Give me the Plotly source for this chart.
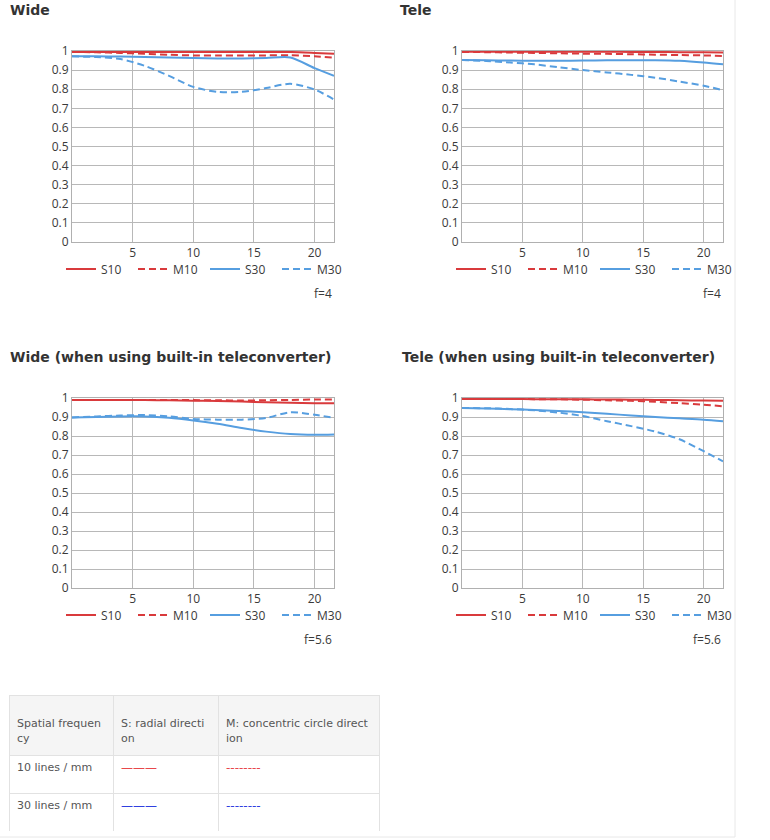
import plotly.graph_objects as go

# ---------------- data ----------------
image_height = [0, 2, 4, 6, 8, 10, 12, 14, 16, 18, 20, 21.6]

wide_s10 = [0.995, 0.995, 0.995, 0.995, 0.995, 0.995, 0.995, 0.995, 0.995, 0.995, 0.990, 0.985]
wide_m10 = [0.995, 0.993, 0.990, 0.985, 0.980, 0.977, 0.976, 0.976, 0.977, 0.978, 0.972, 0.965]
wide_s30 = [0.972, 0.972, 0.971, 0.969, 0.966, 0.963, 0.961, 0.961, 0.963, 0.966, 0.910, 0.870]
wide_m30 = [0.972, 0.968, 0.958, 0.922, 0.870, 0.812, 0.786, 0.786, 0.806, 0.828, 0.798, 0.746]

tele_s10 = [0.996, 0.996, 0.996, 0.996, 0.996, 0.996, 0.996, 0.995, 0.995, 0.994, 0.993, 0.992]
tele_m10 = [0.995, 0.994, 0.992, 0.990, 0.988, 0.986, 0.985, 0.983, 0.981, 0.979, 0.977, 0.974]
tele_s30 = [0.953, 0.951, 0.950, 0.949, 0.949, 0.950, 0.951, 0.952, 0.952, 0.949, 0.940, 0.930]
tele_m30 = [0.953, 0.948, 0.940, 0.930, 0.915, 0.900, 0.888, 0.875, 0.860, 0.840, 0.818, 0.795]

widetc_s10 = [0.990, 0.990, 0.990, 0.989, 0.988, 0.986, 0.984, 0.981, 0.978, 0.975, 0.973, 0.972]
widetc_m10 = [0.990, 0.990, 0.990, 0.990, 0.990, 0.989, 0.988, 0.987, 0.988, 0.990, 0.992, 0.992]
widetc_s30 = [0.898, 0.900, 0.903, 0.903, 0.896, 0.882, 0.864, 0.842, 0.823, 0.810, 0.806, 0.808]
widetc_m30 = [0.898, 0.903, 0.908, 0.910, 0.903, 0.890, 0.886, 0.886, 0.895, 0.925, 0.912, 0.895]

teletc_s10 = [0.995, 0.995, 0.995, 0.994, 0.994, 0.993, 0.992, 0.991, 0.990, 0.988, 0.987, 0.986]
teletc_m10 = [0.995, 0.995, 0.995, 0.994, 0.993, 0.991, 0.988, 0.985, 0.980, 0.973, 0.965, 0.956]
teletc_s30 = [0.947, 0.945, 0.941, 0.937, 0.932, 0.925, 0.917, 0.908, 0.900, 0.893, 0.886, 0.877]
teletc_m30 = [0.947, 0.946, 0.942, 0.935, 0.923, 0.905, 0.878, 0.852, 0.823, 0.783, 0.720, 0.667]

panel_titles = ["Wide", "Tele", "Wide (when using built-in teleconverter)",
                "Tele (when using built-in teleconverter)"]
panel_fnum = ["f=4", "f=4", "f=5.6", "f=5.6"]
series_names = ["S10", "M10", "S30", "M30"]
panels = [
    [wide_s10, wide_m10, wide_s30, wide_m30],
    [tele_s10, tele_m10, tele_s30, tele_m30],
    [widetc_s10, widetc_m10, widetc_s30, widetc_m30],
    [teletc_s10, teletc_m10, teletc_s30, teletc_m30],
]
x_ticks = [5, 10, 15, 20]
y_ticks = [0, 0.1, 0.2, 0.3, 0.4, 0.5, 0.6, 0.7, 0.8, 0.9, 1]
y_ticklabels = ["0", "0.1", "0.2", "0.3", "0.4", "0.5", "0.6", "0.7", "0.8", "0.9", "1"]

table_header = ["\u00a0<br>Spatial frequen<br>cy", "\u00a0<br>S: radial directi<br>on",
                "\u00a0<br>M: concentric circle direct<br>ion"]
table_freq = ["10 lines / mm", "30 lines / mm"]
table_radial = ["———", "———"]
table_concentric = ["--------", "--------"]

# ---------------- styling ----------------
W, H = 770, 840
RED = "#d93a3c"
BLUE = "#569ee0"
TABLE_RED = "#e8474b"
TABLE_BLUE = "#3040e0"
colors = [RED, RED, BLUE, BLUE]
dashes = ["solid", "7px,4px", "solid", "7px,4px"]
TICKFONT = dict(family="Open Sans", size=12, color="#3a3a3a")

# pixel boxes of the four plot areas (left, right, top, bottom)
boxes = [(72, 334, 51, 242), (462, 723, 51, 242), (72, 334, 398, 588), (462, 723, 398, 588)]
title_pos = [(8, 10), (398, 10), (8, 357), (400, 357)]

def px(x):
    return x / W

def py(y):
    return 1 - y / H

fig = go.Figure()
layout = {}
annotations = []

for i, (series, box) in enumerate(zip(panels, boxes)):
    n = "" if i == 0 else str(i + 1)
    l, r, t, b = box
    leg = "legend" + n
    for name, vals, c, d in zip(series_names, series, colors, dashes):
        fig.add_trace(go.Scatter(
            x=image_height, y=vals, name=name, mode="lines",
            line=dict(color=c, width=2, dash=d, shape="spline", smoothing=0.8),
            xaxis="x" + n, yaxis="y" + n, legend=leg, hoverinfo="skip"))
    layout["xaxis" + n] = dict(
        domain=[px(l), px(r)], range=[0, 21.6], anchor="y" + n,
        tickvals=x_ticks, ticktext=[str(v) for v in x_ticks],
        showgrid=True, gridcolor="#b8b8b8", gridwidth=1,
        showline=True, linecolor="#b0b0b0", linewidth=1, mirror=True,
        zeroline=False, ticks="", tickfont=TICKFONT, fixedrange=True, automargin=False)
    layout["yaxis" + n] = dict(
        domain=[py(b), py(t)], range=[0, 1], anchor="x" + n,
        tickvals=y_ticks, ticktext=y_ticklabels,
        showgrid=True, gridcolor="#b8b8b8", gridwidth=1,
        showline=True, linecolor="#b0b0b0", linewidth=1, mirror=True,
        zeroline=False, ticks="", tickfont=TICKFONT, fixedrange=True, automargin=False)
    layout[leg] = dict(
        orientation="h", x=px(l - 11), xanchor="left", y=py(b + 27), yanchor="middle",
        font=dict(family="Open Sans", size=12, color="#3a3a3a"),
        bgcolor="rgba(0,0,0,0)", entrywidth=27, entrywidthmode="pixels",
        traceorder="normal", itemclick=False, itemdoubleclick=False)
    annotations.append(dict(
        text=panel_fnum[i], x=px(r), y=py(b + 51), xref="paper", yref="paper",
        xanchor="right", yanchor="middle", showarrow=False,
        font=dict(family="Open Sans", size=12, color="#3a3a3a")))
    tx, ty = title_pos[i]
    annotations.append(dict(
        text="<b>" + panel_titles[i] + "</b>", x=px(tx), y=py(ty), xref="paper", yref="paper",
        xanchor="left", yanchor="middle", showarrow=False,
        font=dict(family="DejaVu Sans", size=14, color="#333333")))

GREY_TXT = "#555555"
fig.add_trace(go.Table(
    domain=dict(x=[px(9), px(379)], y=[py(831), py(695)]),
    columnwidth=[104, 105, 161],
    header=dict(values=table_header, fill_color="#f5f5f5",
                line=dict(color="#e2e2e2", width=1), align="left", height=60,
                font=dict(family="DejaVu Sans", size=11, color=GREY_TXT)),
    cells=dict(values=[table_freq, table_radial, table_concentric],
               fill_color="white", line=dict(color="#e2e2e2", width=1),
               align="left", height=38,
               font=dict(family="DejaVu Sans", size=[11, 12, 12],
                         color=[[GREY_TXT, GREY_TXT], [TABLE_RED, TABLE_BLUE],
                                [TABLE_RED, TABLE_BLUE]]))))

shapes = [
    dict(type="line", xref="paper", yref="paper", x0=px(735), x1=px(735), y0=py(0), y1=py(837),
         line=dict(color="#e8e8e8", width=1)),
    dict(type="line", xref="paper", yref="paper", x0=0, x1=px(735), y0=py(837), y1=py(837),
         line=dict(color="#e8e8e8", width=1)),
]

fig.update_layout(
    width=W, height=H, margin=dict(l=0, r=0, t=0, b=0, autoexpand=False),
    paper_bgcolor="white", plot_bgcolor="white",
    annotations=annotations, shapes=shapes, **layout)

fig.write_html("out.html", config={"displayModeBar": False})
